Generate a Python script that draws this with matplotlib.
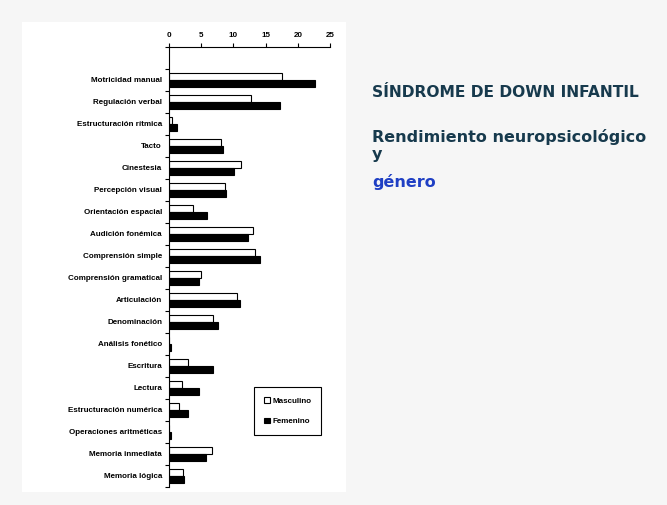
import matplotlib.pyplot as plt
import numpy as np

# Datos
categorias = ["Motricidad manual", "Regulación verbal", "Estructuración rítmica", "Tacto",
              "Cinestesia", "Percepción visual", "Orientación espacial", "Audición fonémica",
              "Comprensión simple", "Comprensión gramatical", "Articulación", "Denominación",
              "Análisis fonético", "Escritura", "Lectura", "Estructuración numérica",
              "Operaciones aritméticas", "Memoria inmediata", "Memoria lógica"]
masculino = [17.6, 12.8, 0.5, 8.0, 11.2, 8.7, 3.8, 13.1, 13.4, 5.0,
             10.6, 6.9, 0.0, 3.0, 2.0, 1.5, 0.0, 6.7, 2.1]
femenino = [22.6, 17.2, 1.2, 8.4, 10.1, 8.9, 5.9, 12.3, 14.2, 4.6,
            11.0, 7.6, 0.3, 6.9, 4.6, 2.9, 0.3, 5.7, 2.4]
xticks = [0, 5, 10, 15, 20, 25]

fuente = 'Liberation Sans'

fig = plt.figure(figsize=(6.67, 5.05), dpi=100, facecolor='#f6f6f6')
# Panel blanco detrás del gráfico
fondo = fig.add_axes([22/667, 1-492/505, (346-22)/667, (492-22)/505])
fondo.set_facecolor('white')
fondo.set_xticks([])
fondo.set_yticks([])
for s in fondo.spines.values():
    s.set_visible(False)

ax = fig.add_axes([169/667, 1-487/505, (330-169)/667, (487-47)/505])
ax.set_facecolor('none')

pos = np.arange(len(categorias))
h = 0.3
ax.barh(pos - h/2, masculino, height=h, color='white', edgecolor='black', linewidth=0.8, label='Masculino')
ax.barh(pos + h/2, femenino, height=h, color='black', edgecolor='black', linewidth=0.8, label='Femenino')

ax.set_xlim(0, 25)
ax.set_ylim(len(categorias) - 0.5, -1.5)
ax.set_xticks(xticks)
ax.set_xticklabels([str(v) for v in xticks], fontsize=5.8, fontweight='bold', family=fuente)
ax.xaxis.tick_top()
ax.tick_params(axis='x', direction='out', length=3, width=0.8, pad=2.5)

ax.set_yticks(pos)
ax.set_yticklabels(categorias, fontsize=5.8, fontweight='bold', family=fuente)
ax.set_yticks(np.arange(-1.5, len(categorias), 1.0), minor=True)
ax.tick_params(axis='y', which='major', length=0, pad=5)
ax.tick_params(axis='y', which='minor', length=3, width=0.8, direction='out')

for s in ['right', 'bottom']:
    ax.spines[s].set_visible(False)
ax.spines['top'].set_linewidth(0.8)
ax.spines['left'].set_linewidth(0.8)

leg = ax.legend(loc='upper left', bbox_to_anchor=(254/667, 1-387/505), bbox_transform=fig.transFigure,
                borderaxespad=0, fancybox=False, edgecolor='black',
                prop={'size': 5.8, 'weight': 'bold', 'family': fuente},
                handlelength=0.7, handleheight=0.7, handletextpad=0.3, labelspacing=1.6,
                borderpad=1.25, framealpha=1)
leg.get_frame().set_linewidth(0.8)

# Textos de la derecha
fig.text(372/667, 1-93/505, "SÍNDROME DE DOWN INFANTIL", fontsize=11.2, fontweight='bold',
         color='#173a4d', va='center', ha='left')
fig.text(372/667, 1-137/505, "Rendimiento neuropsicológico", fontsize=11.5, fontweight='bold',
         color='#173a4d', va='center', ha='left')
fig.text(372/667, 1-155/505, "y", fontsize=11.5, fontweight='bold',
         color='#173a4d', va='center', ha='left')
fig.text(372/667, 1-182/505, "género", fontsize=11.5, fontweight='bold',
         color='#1f3fc4', va='center', ha='left')

fig.savefig('out.png', dpi=100, facecolor=fig.get_facecolor())
